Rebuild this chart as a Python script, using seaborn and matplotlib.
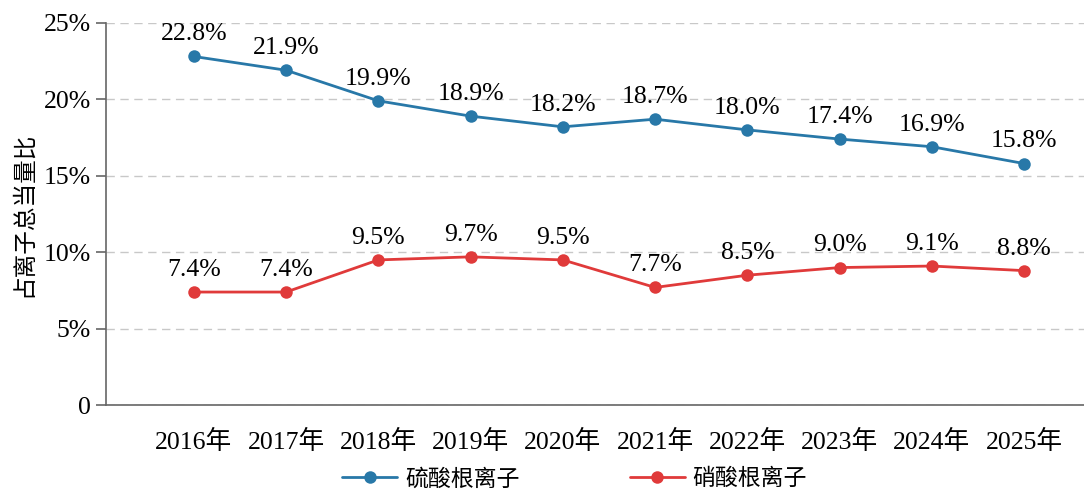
import pandas as pd
import matplotlib.pyplot as plt
import seaborn as sns

years = ['2016年', '2017年', '2018年', '2019年', '2020年',
         '2021年', '2022年', '2023年', '2024年', '2025年']
sulfate = [22.8, 21.9, 19.9, 18.9, 18.2, 18.7, 18.0, 17.4, 16.9, 15.8]
nitrate = [7.4, 7.4, 9.5, 9.7, 9.5, 7.7, 8.5, 9.0, 9.1, 8.8]
series_names = ['硫酸根离子', '硝酸根离子']
yticks = [0, 5, 10, 15, 20, 25]
ytick_labels = ['0', '5%', '10%', '15%', '20%', '25%']

data = pd.DataFrame({
    'year': years * 2,
    'x': list(range(len(years))) * 2,
    'value': sulfate + nitrate,
    'ion': [series_names[0]] * len(years) + [series_names[1]] * len(years),
})

sns.set_style('white')
plt.rcParams['font.family'] = ['Liberation Serif', 'Noto Sans CJK SC']
plt.rcParams['font.size'] = 18.5
plt.rcParams['text.color'] = 'black'
plt.rcParams['axes.labelcolor'] = 'black'
plt.rcParams['xtick.color'] = 'black'
plt.rcParams['ytick.color'] = 'black'

fig, ax = plt.subplots(figsize=(10.84, 4.96), dpi=100)
fig.subplots_adjust(left=0.098, right=1.0, bottom=0.183, top=0.954)

colors = ['#2878a8', '#e03a3a']
sns.lineplot(data=data, x='x', y='value', hue='ion', palette=colors,
             marker='o', markersize=9, markeredgewidth=0, linewidth=2,
             ax=ax, legend=True)

for vals in [sulfate, nitrate]:
    for i, v in enumerate(vals):
        ax.annotate(f'{v:.1f}%', (i, v), xytext=(0, 8), textcoords='offset points',
                    ha='center', va='bottom', fontsize=18.5)

ax.set_xlim(-0.95, 9.65)
ax.set_ylim(0, 25)
ax.set_xticks(range(len(years)))
ax.set_xticklabels(years)
ax.set_yticks(yticks)
ax.set_yticklabels(ytick_labels)
ax.set_xlabel('')
ax.set_ylabel('占离子总当量比', fontsize=17, labelpad=6)

ax.yaxis.grid(True, color='#c8c8c8', linestyle=(0, (6, 4)), linewidth=1)
ax.xaxis.grid(False)
for s in ['top', 'right']:
    ax.spines[s].set_visible(False)
for s in ['left', 'bottom']:
    ax.spines[s].set_color('#666666')
    ax.spines[s].set_linewidth(1.2)
ax.tick_params(axis='y', left=True, length=7, color='#666666', labelcolor='black',
               width=1.2, pad=4)
ax.tick_params(axis='x', bottom=False, pad=14, labelcolor='black')

handles, labels = ax.get_legend_handles_labels()
ax.get_legend().remove()
fig.legend(handles, labels, loc='lower center', bbox_to_anchor=(0.53, -0.03),
           ncol=2, frameon=False, columnspacing=4.8, handlelength=2.4,
           handletextpad=0.35, fontsize=16.5)

fig.savefig('out.png', dpi=100)
